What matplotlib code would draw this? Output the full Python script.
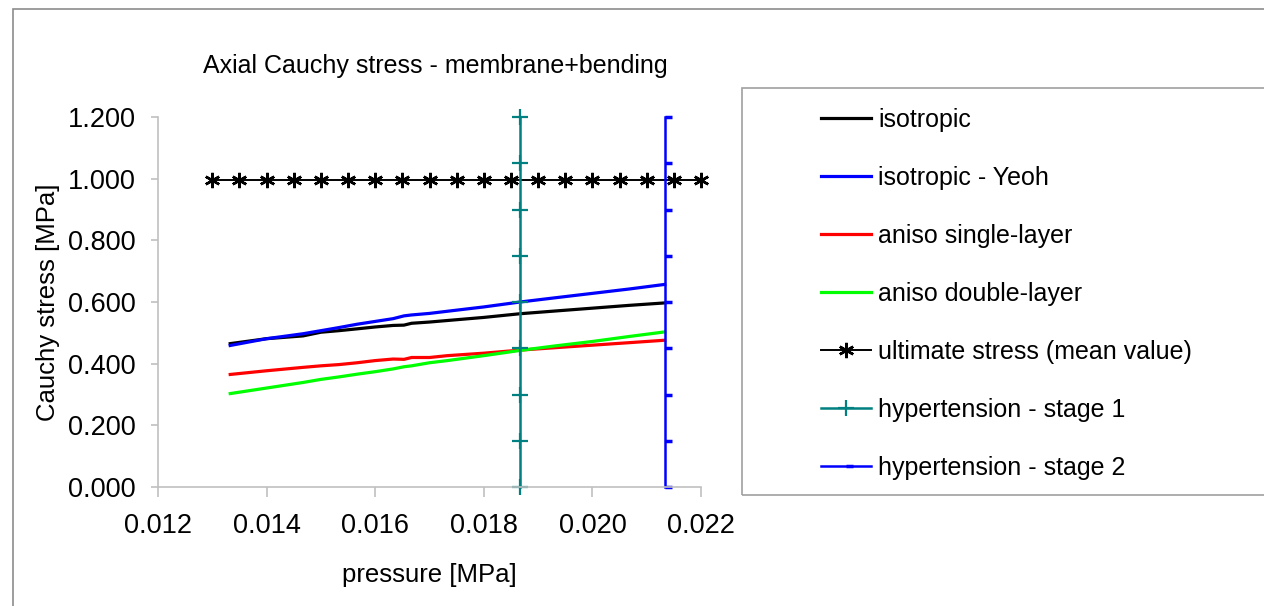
import numpy as np
import matplotlib
matplotlib.use("Agg")
import matplotlib.pyplot as plt
from matplotlib.path import Path
from matplotlib.patches import Rectangle

plt.rcParams['font.family'] = ['Liberation Sans', 'DejaVu Sans']

# %% data
pressure = [0.01333, 0.01400, 0.01467, 0.01500, 0.01533, 0.01567, 0.01600, 0.01633, 0.01653,
            0.01667, 0.01700, 0.01733, 0.01800, 0.01867, 0.01933, 0.02000, 0.02067, 0.02133]
isotropic = [0.465, 0.481, 0.490, 0.502, 0.507, 0.513, 0.519, 0.524, 0.525,
             0.531, 0.535, 0.540, 0.550, 0.562, 0.571, 0.580, 0.589, 0.597]
iso_yeoh = [0.459, 0.481, 0.497, 0.507, 0.517, 0.528, 0.537, 0.546, 0.555,
            0.558, 0.563, 0.570, 0.584, 0.600, 0.614, 0.628, 0.642, 0.657]
aniso_single = [0.365, 0.377, 0.388, 0.393, 0.397, 0.403, 0.410, 0.415, 0.414,
                0.420, 0.420, 0.426, 0.434, 0.444, 0.452, 0.460, 0.468, 0.476]
aniso_double = [0.303, 0.321, 0.339, 0.349, 0.357, 0.366, 0.374, 0.383, 0.390,
                0.393, 0.403, 0.410, 0.426, 0.443, 0.458, 0.472, 0.488, 0.503]

ult_pressure = [0.0130, 0.0135, 0.0140, 0.0145, 0.0150, 0.0155, 0.0160, 0.0165, 0.0170, 0.0175,
                0.0180, 0.0185, 0.0190, 0.0195, 0.0200, 0.0205, 0.0210, 0.0215, 0.0220]
ult_stress = [0.995] * len(ult_pressure)

hyp_stress = [0.0, 0.15, 0.30, 0.45, 0.60, 0.75, 0.90, 1.05, 1.20]
stage1_p = [0.018665] * len(hyp_stress)
stage2_p = [0.021331] * len(hyp_stress)

xticks = [0.012, 0.014, 0.016, 0.018, 0.020, 0.022]
yticks = [0.0, 0.2, 0.4, 0.6, 0.8, 1.0, 1.2]

# %% plot
W, H = 1264, 606
fig = plt.figure(figsize=(W / 100, H / 100), dpi=100)
ax = fig.add_axes([158 / W, 1 - 487 / H, (701 - 158) / W, (487 - 117) / H])

# outer frame
fig.patches.append(Rectangle((13 / W, -0.1), 1.2, 1 - 9 / H + 0.1, transform=fig.transFigure,
                             fill=False, edgecolor='#8c8c8c', linewidth=1.2))

dash_right = Path([(0, 0), (1, 0)], [Path.MOVETO, Path.LINETO])

ax.plot(pressure, isotropic, color='black', lw=2.3, label='isotropic')
ax.plot(pressure, iso_yeoh, color='#0000ff', lw=2.3, label='isotropic - Yeoh')
ax.plot(pressure, aniso_single, color='#ff0000', lw=2.3, label='aniso single-layer')
ax.plot(pressure, aniso_double, color='#00ff00', lw=2.3, label='aniso double-layer')
ax.plot(ult_pressure, ult_stress, color='black', lw=1.4, marker=(6, 2, 0), ms=11, mew=1.8,
        label='ultimate stress (mean value)')
ax.plot(stage1_p, hyp_stress, color='#008080', lw=1.8, marker='+', ms=11, mew=1.6,
        label='hypertension - stage 1')
ax.plot(stage2_p, hyp_stress, color='#0000ff', lw=1.8, marker=dash_right, ms=10, mew=2.5,
        label='hypertension - stage 2')

ax.set_xlim(0.012, 0.022)
ax.set_ylim(0.0, 1.2)
ax.set_xticks(xticks)
ax.set_yticks(yticks)
ax.set_xticklabels([f"{v:.3f}" for v in xticks])
ax.set_yticklabels([f"{v:.3f}" for v in yticks])
for s in ['top', 'right']:
    ax.spines[s].set_visible(False)
for s in ['left', 'bottom']:
    ax.spines[s].set_color('#c0c0c0')
    ax.spines[s].set_linewidth(1.2)
ax.tick_params(direction='out', width=1.2, color='#c0c0c0', labelsize=19.5)
ax.tick_params(axis='x', length=7, pad=12)
ax.tick_params(axis='y', length=5, pad=11)
for ln in ax.lines:
    ln.set_clip_on(False)

fig.text(435 / W, 1 - 66 / H, 'Axial Cauchy stress - membrane+bending', ha='center', va='center', fontsize=18)
ax.set_xlabel('pressure [MPa]', fontsize=18.5, labelpad=17)
ax.set_ylabel('Cauchy stress [MPa]', fontsize=18.5, labelpad=5.5)

# legend box
fig.patches.append(Rectangle((742 / W, 1 - 495 / H), 1.0, (495 - 88) / H, transform=fig.transFigure,
                             fill=False, edgecolor='#a0a0a0', linewidth=1.2))
fig.legend(loc='upper left', bbox_to_anchor=(808 / W, 1 - 95 / H), frameon=False, fontsize=18,
           handlelength=2.0, handletextpad=0.3, labelspacing=1.36, numpoints=1, borderpad=0)

fig.savefig('out.png', dpi=100)
